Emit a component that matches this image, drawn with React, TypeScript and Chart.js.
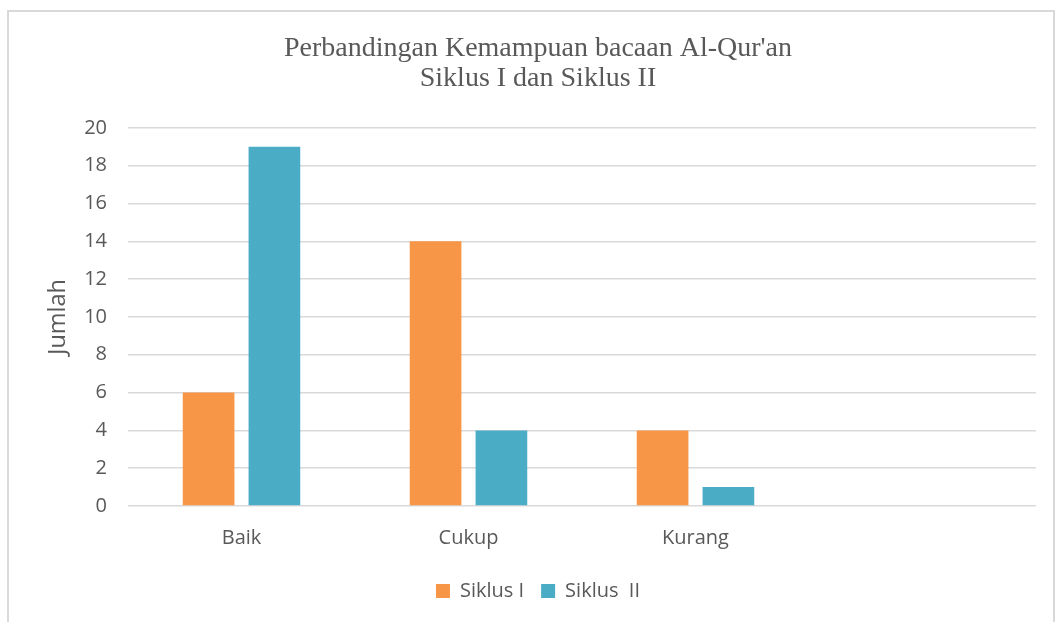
import React, { useEffect, useRef } from "react";
import { Chart, registerables } from "chart.js";

Chart.register(...registerables);

const categories = ["Baik", "Cukup", "Kurang", ""];
const siklus1 = [6, 14, 4, null];
const siklus2 = [19, 4, 1, null];
const seriesLabels = ["Siklus I", "Siklus  II"];
const titleLines = ["Perbandingan Kemampuan bacaan Al-Qur'an", "Siklus I dan Siklus II"];
const yTitle = "Jumlah";

export default function App() {
  const ref = useRef<HTMLCanvasElement | null>(null);
  useEffect(() => {
    if (!ref.current) return;
    const tickFont = { family: "'Open Sans', sans-serif", size: 20 };
    const chart = new Chart(ref.current, {
      type: "bar",
      data: {
        labels: categories,
        datasets: [
          {
            label: seriesLabels[0],
            data: siklus1,
            backgroundColor: "#F79646",
            categoryPercentage: 0.58,
            barPercentage: 0.785,
          },
          {
            label: seriesLabels[1],
            data: siklus2,
            backgroundColor: "#4BACC6",
            categoryPercentage: 0.58,
            barPercentage: 0.785,
          },
        ],
      },
      options: {
        responsive: false,
        animation: false,
        layout: { padding: { left: 40, right: 19, top: 0, bottom: 11 } },
        plugins: {
          title: {
            display: true,
            text: titleLines,
            color: "#595959",
            font: { family: "'Liberation Serif', serif", size: 28, weight: "normal", lineHeight: 1.07 },
            padding: { top: 34, bottom: 34 },
          },
          legend: {
            display: true,
            position: "bottom",
            labels: {
              boxWidth: 14,
              boxHeight: 14,
              color: "#595959",
              font: { family: "'Open Sans', sans-serif", size: 20 },
              padding: 17,
            },
          },
          tooltip: { enabled: false },
        },
        scales: {
          x: {
            grid: { display: false },
            border: { display: false },
            ticks: { color: "#595959", font: tickFont, padding: 12 },
            afterFit: (scale: any) => {
              scale.height = 58;
            },
          },
          y: {
            min: 0,
            max: 20,
            ticks: { stepSize: 2, color: "#595959", font: tickFont, padding: 21 },
            grid: { color: "#D9D9D9", lineWidth: 1.5, drawTicks: false },
            border: { display: false },
            title: {
              display: true,
              text: yTitle,
              color: "#595959",
              font: { family: "'Open Sans', sans-serif", size: 23.5 },
              padding: { top: 4, bottom: 0 },
            },
            afterFit: (scale: any) => {
              scale.width = 88;
            },
          },
        },
      },
    });
    return () => chart.destroy();
  }, []);
  return (
    <div style={{ position: "absolute", left: 0, top: 0, width: 1055, height: 622, overflow: "hidden", background: "#fff" }}>
      <div
        style={{
          position: "absolute",
          left: 7,
          top: 10,
          width: 1048,
          height: 640,
          border: "2px solid #D9D9D9",
          boxSizing: "border-box",
        }}
      />
      <canvas ref={ref} width={1055} height={622} style={{ position: "absolute", left: 0, top: 0 }} />
    </div>
  );
}
